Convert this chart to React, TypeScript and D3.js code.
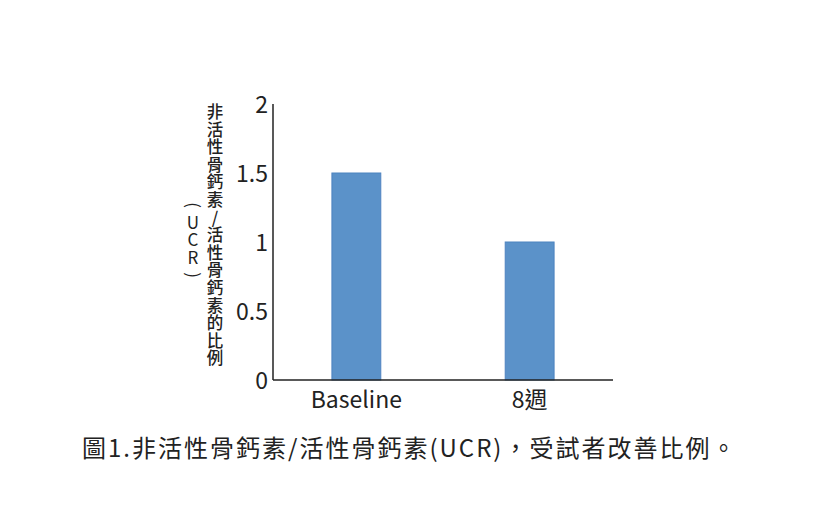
import React from "react";
import * as d3 from "d3";

const categories = ["Baseline", "8週"];
const values = [1.5, 1.0];
const yTicks = [0, 0.5, 1, 1.5, 2];
const yTickLabels = ["0", "0.5", "1", "1.5", "2"];
const yLabelMain = "非活性骨鈣素/活性骨鈣素的比例";
const yLabelSub = ["(", "U", "C", "R", ")"];
const caption = "圖1.非活性骨鈣素/活性骨鈣素(UCR)，受試者改善比例。";

const W = 813;
const H = 528;
const FONT = "'Noto Sans CJK TC', 'Noto Sans', sans-serif";

export default function App() {
  const x0 = 273, x1 = 613, yTop = 104, yBot = 380;
  const y = d3.scaleLinear().domain([0, 2]).range([yBot, yTop]);
  const x = d3.scaleBand().domain(categories).range([x0, x1]).paddingInner(0.718).paddingOuter(0.34);

  return (
    <svg width={W} height={H} style={{ position: "absolute", left: 0, top: 0, background: "#fff" }}>
      <rect x={0} y={0} width={W} height={H} fill="#fff" />
      {categories.map((c, i) => (
        <rect key={c} x={x(c)!} y={y(values[i])} width={x.bandwidth()} height={y(0) - y(values[i])}
          fill="#5b92c9" stroke="#4d83c0" strokeWidth={1} />
      ))}
      <line x1={x0} x2={x0} y1={yTop} y2={yBot} stroke="#222" strokeWidth={1.5} />
      <line x1={x0} x2={x1} y1={yBot} y2={yBot} stroke="#222" strokeWidth={1.5} />
      {yTicks.map((t, i) => (
        <text key={t} x={268} y={y(t) + 1} dy="0.36em" textAnchor="end" fontFamily={FONT}
          fontSize={23} fontWeight={400} fill="#222">{yTickLabels[i]}</text>
      ))}
      {categories.map((c) => (
        <text key={c} x={x(c)! + x.bandwidth() / 2} y={400} dy="0.36em" textAnchor="middle"
          fontFamily={FONT} fontSize={23} fontWeight={400} fill="#222">{c}</text>
      ))}
      {Array.from(yLabelMain).map((ch, i) => (
        <text key={i} x={215} y={112 + i * 17.6} dy="0.36em" textAnchor="middle" fontFamily={FONT}
          fontSize={16.5} fontWeight={500} fill="#222">{ch}</text>
      ))}
      {yLabelSub.map((ch, i) => {
        const cy = 205 + i * 17.5;
        const rot = ch === "(" || ch === ")";
        return (
          <text key={i} x={193} y={cy} dy="0.36em" textAnchor="middle" fontFamily={FONT}
            fontSize={17} fontWeight={400} fill="#222" transform={rot ? `rotate(90 193 ${cy})` : undefined}>{ch}</text>
        );
      })}
      <text x={82} y={448} dy="0.36em" fontFamily={FONT} fontSize={24} letterSpacing={2} fill="#222">{caption}</text>
    </svg>
  );
}
